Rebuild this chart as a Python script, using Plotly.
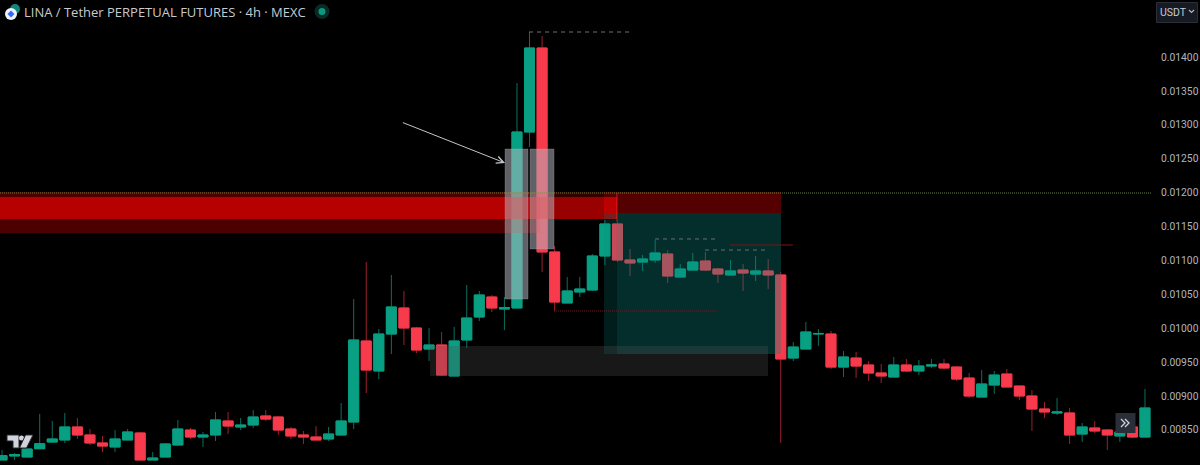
import plotly.graph_objects as go

OPENS = [0.008056,0.008115,0.0081,0.008222,0.008321,0.008351,0.008543,0.008425,0.008307,0.008248,0.008351,0.008454,0.008056,0.0081,0.008277,0.008498,0.008395,0.008425,0.008631,0.008543,0.008572,0.008705,0.00869,0.008513,0.008425,0.008395,0.008366,0.008425,
 0.008616,0.009811,0.009369,0.009914,0.010298,0.010003,0.009693,0.009752,0.009295,0.009826,0.010165,0.01046,0.010283,0.010298,0.012894,0.014133,0.011124,0.010372,0.010534,0.010563,0.011065,0.011537,0.011006,0.010976,0.011006,0.011094,0.010755,0.010858,0.010991,0.010873,0.010785,0.010858,0.010799,0.010844,
 0.010785,0.00956,0.009693,0.009914,0.009914,0.009427,0.00956,0.009457,0.009339,0.00928,0.009457,0.009369,0.009442,0.009472,0.009427,0.009265,0.008985,0.009162,0.009324,0.009147,0.009,0.008808,0.008749,0.008749,0.008439,0.008528,0.008498,0.00841,0.008543,0.008395]
HIGHS = [0.008203,0.008159,0.008218,0.008734,0.008631,0.008749,0.008675,0.008513,0.00841,0.008498,0.008513,0.008469,0.008174,0.008307,0.008646,0.008528,0.008469,0.008764,0.008764,0.008675,0.008793,0.008793,0.008705,0.008543,0.008484,0.008557,0.008543,0.008897,
 0.01043,0.010976,0.009988,0.010785,0.010549,0.010018,0.010003,0.009944,0.010018,0.010637,0.010549,0.01049,0.01046,0.013616,0.014369,0.01431,0.011212,0.010755,0.010755,0.011094,0.011596,0.011566,0.011168,0.011079,0.011301,0.011153,0.010947,0.011109,0.011124,0.010888,0.011006,0.010947,0.011065,0.01102,
 0.010829,0.009796,0.010091,0.009988,0.009959,0.009664,0.009649,0.009516,0.009472,0.009575,0.009546,0.009531,0.009546,0.009546,0.009442,0.009339,0.009383,0.009369,0.009398,0.009147,0.009088,0.008911,0.00897,0.008823,0.008602,0.008631,0.008513,0.008557,0.008572,0.009103]
LOWS = [0.008056,0.008056,0.0081,0.008218,0.008307,0.008307,0.008366,0.008277,0.008174,0.008174,0.008351,0.008056,0.008056,0.0081,0.008277,0.008366,0.008248,0.008336,0.008439,0.008498,0.008528,0.008631,0.008425,0.008366,0.008292,0.008351,0.008336,0.00841,
 0.008513,0.009044,0.00925,0.009619,0.009752,0.009634,0.009516,0.009295,0.009295,0.009708,0.010106,0.010239,0.009973,0.010298,0.012673,0.010829,0.010254,0.010372,0.01046,0.010549,0.010932,0.010976,0.01077,0.010844,0.010962,0.010667,0.010755,0.010858,0.010844,0.010667,0.010785,0.010549,0.010696,0.010578,
 0.008307,0.009516,0.009693,0.009737,0.009398,0.00928,0.009265,0.009221,0.009192,0.00928,0.009354,0.009309,0.009413,0.009398,0.009221,0.00897,0.008985,0.009029,0.009133,0.008941,0.008484,0.008675,0.008719,0.008292,0.008321,0.008454,0.008203,0.008321,0.00838,0.008395]
CLOSES = [0.00812,0.008135,0.008218,0.008296,0.008366,0.008543,0.008425,0.008307,0.008262,0.008366,0.008469,0.008056,0.008085,0.008292,0.008513,0.008395,0.008425,0.008646,0.008557,0.008572,0.00869,0.00866,0.008498,0.00841,0.008395,0.008351,0.008439,0.008631,
 0.009826,0.009383,0.009914,0.010313,0.010003,0.009678,0.009752,0.009309,0.009811,0.01015,0.01049,0.010298,0.010305,0.012894,0.014133,0.011124,0.010386,0.010549,0.010578,0.011065,0.011537,0.011006,0.010962,0.01102,0.011109,0.01077,0.010873,0.010976,0.010858,0.010799,0.010844,0.010814,0.010844,0.010785,
 0.009546,0.009722,0.009944,0.009922,0.009427,0.009575,0.009442,0.009339,0.009295,0.009457,0.009369,0.009442,0.009457,0.009413,0.00925,0.009,0.009177,0.009309,0.009133,0.009,0.008808,0.008764,0.008764,0.008425,0.008543,0.008484,0.008425,0.008469,0.008395,0.008823]
BAR_INDEX = list(range(len(OPENS)))

PRICE_TICKS = [0.0085,0.009,0.0095,0.01,0.0105,0.011,0.0115,0.012,0.0125,0.013,0.0135,0.014]
PRICE_RANGE = [0.007982, 0.014841]
INDEX_RANGE = [-0.16, 91.56]

TITLE = "LINA / Tether PERPETUAL FUTURES · 4h · MEXC"
CURRENCY = "USDT"

# drawings on the chart: (x0, x1, price_low, price_high, fill)
ZONES = [
    (-0.16, 42.83, 0.011404, 0.012009, "rgba(255,0,0,0.30)"),
    (42.83, 47.93, 0.011935, 0.012009, "rgba(255,0,0,0.20)"),
    (-0.16, 48.96, 0.01161, 0.011935, "rgba(255,0,0,0.60)"),
    (47.93, 62.02, 0.011699, 0.012009, "rgba(255,0,0,0.33)"),
    (47.93, 48.96, 0.009619, 0.011699, "rgba(10,140,130,0.21)"),
    (48.96, 62.02, 0.009619, 0.011699, "rgba(10,140,130,0.33)"),
    (34.08, 60.99, 0.009295, 0.009737, "rgba(80,80,84,0.30)"),
]
MARKER_BOXES = [
    (40.05, 41.88, 0.01043, 0.012643),
    (42.04, 43.95, 0.011168, 0.012643),
]
DASHED = [(41.96, 50.0, 0.014369), (51.99, 57.0, 0.011316), (55.97, 60.99, 0.011153)]
RED_SOLID = (57.96, 62.98, 0.011227)
RED_DOTTED = (43.95, 56.9, 0.010254)
LEVEL = 0.011994
ARROW = (31.8, 0.013041, 40.05, 0.012437)

W_G, W_R = "#0b6f5e", "#9c2230"
B_G, B_R = "#089f82", "#f73a4c"

def keep(col):
    return dict(line=dict(color=col, width=1), fillcolor=col)

fig = go.Figure()
fig.add_trace(go.Candlestick(x=BAR_INDEX, open=OPENS, high=HIGHS, low=LOWS, close=CLOSES,
    increasing=keep(W_G), decreasing=keep(W_R), whiskerwidth=0, hoverinfo="skip", showlegend=False))
body_hi = [max(a, b) for a, b in zip(OPENS, CLOSES)]
body_lo = [min(a, b) for a, b in zip(OPENS, CLOSES)]
fig.add_trace(go.Candlestick(x=BAR_INDEX, open=OPENS, high=body_hi, low=body_lo, close=CLOSES,
    increasing=keep(B_G), decreasing=keep(B_R), whiskerwidth=0, hoverinfo="skip", showlegend=False))

shapes = []
for x0, x1, y0, y1, c in ZONES:
    shapes.append(dict(type="rect", xref="x", yref="y", x0=x0, x1=x1, y0=y0, y1=y1, fillcolor=c, line_width=0))
for x0, x1, y0, y1 in MARKER_BOXES:
    shapes.append(dict(type="rect", xref="x", yref="y", x0=x0, x1=x1, y0=y0, y1=y1,
                       fillcolor="rgba(183,186,196,0.52)", line=dict(color="rgba(183,186,196,0.25)", width=1)))
for x0, x1, y in DASHED:
    shapes.append(dict(type="line", xref="x", yref="y", x0=x0, x1=x1, y0=y, y1=y,
                       line=dict(color="#6a6e72", width=1, dash="4px,4px")))
shapes.append(dict(type="line", xref="x", yref="y", x0=RED_SOLID[0], x1=RED_SOLID[1], y0=RED_SOLID[2], y1=RED_SOLID[2],
                   line=dict(color="#7a1212", width=1)))
shapes.append(dict(type="line", xref="x", yref="y", x0=RED_DOTTED[0], x1=RED_DOTTED[1], y0=RED_DOTTED[2], y1=RED_DOTTED[2],
                   line=dict(color="#6e1c22", width=1, dash="1px,1px")))
shapes.append(dict(type="line", xref="x", yref="y", x0=INDEX_RANGE[0], x1=INDEX_RANGE[1], y0=LEVEL, y1=LEVEL,
                   line=dict(color="rgba(120,150,70,0.85)", width=1, dash="1px,1px")))
shapes.append(dict(type="line", xref="x", yref="y", x0=48.96, x1=48.96, y0=0.011566, y1=0.011994,
                   line=dict(color="rgba(255,40,40,0.7)", width=1)))

PW, PH = 1152.0, 465.0
px = lambda v: v / PW
py = lambda v: 1 - v / PH

def circle(cx, cy, r, fill, line=None):
    return dict(type="circle", xref="paper", yref="paper", x0=px(cx - r), x1=px(cx + r), y0=py(cy + r), y1=py(cy - r),
                fillcolor=fill, line=dict(width=0) if line is None else line)

def path(points, fill, line=None):
    d = "M " + " L ".join(f"{px(a)},{py(b)}" for a, b in points) + " Z"
    return dict(type="path", xref="paper", yref="paper", path=d, fillcolor=fill,
                line=dict(width=0) if line is None else line)

# header icons
shapes += [circle(15, 9, 5, "#12867a"), circle(11, 14, 6, "#f0f3fa"),
           path([(11, 10.5), (14.5, 14), (11, 17.5), (7.5, 14)], "#2f6bff"),
           circle(322, 11.5, 7.5, "#0b2a26"), circle(322, 11.5, 3.5, "#089981")]
# TradingView mark
tv = "#d1d4dc"
edge = dict(color="#26282e", width=1)
shapes += [path([(7, 435), (19, 435), (19, 448), (13, 448), (13, 441), (7, 441)], tv, edge),
           circle(21.5, 438, 2.5, tv),
           path([(25.5, 435), (33, 435), (26.5, 448), (19.5, 448)], tv, edge)]
# currency button, scroll button
shapes += [dict(type="rect", xref="paper", yref="paper", x0=px(1156.5), x1=px(1197.5), y0=py(22.5), y1=py(2.5),
                fillcolor="#161a22", line=dict(color="#2a2e39", width=1)),
           dict(type="rect", xref="paper", yref="paper", x0=px(1115.5), x1=px(1135.5), y0=py(433), y1=py(413),
                fillcolor="#2a2e39", line=dict(width=0))]
shapes += [dict(type="path", xref="paper", yref="paper",
                path=f"M {px(1189)},{py(10)} L {px(1191.5)},{py(12.5)} L {px(1194)},{py(10)}",
                line=dict(color="#b2b5be", width=1.2)),
           dict(type="path", xref="paper", yref="paper",
                path=f"M {px(1121)},{py(419)} L {px(1125)},{py(423)} L {px(1121)},{py(427)}",
                line=dict(color="#d1d4dc", width=1.3)),
           dict(type="path", xref="paper", yref="paper",
                path=f"M {px(1125)},{py(419)} L {px(1129)},{py(423)} L {px(1125)},{py(427)}",
                line=dict(color="#d1d4dc", width=1.3))]

ann = [
    dict(xref="paper", yref="paper", x=px(21.5), y=py(12), text=TITLE, showarrow=False, xanchor="left", yanchor="middle",
         font=dict(family="Open Sans", size=13, color="#c8cad0")),
    dict(xref="paper", yref="paper", x=px(1158), y=py(12.5), text=CURRENCY, showarrow=False, xanchor="left", yanchor="middle",
         font=dict(family="Roboto", size=10.5, color="#c8cad0")),
    dict(x=ARROW[2], y=ARROW[3], ax=ARROW[0], ay=ARROW[1], xref="x", yref="y", axref="x", ayref="y", text="",
         showarrow=True, arrowhead=5, arrowsize=1.4, arrowwidth=1, arrowcolor="#c4c6cc"),
]

fig.update_layout(
    width=1200, height=465, autosize=False,
    margin=dict(l=0, r=48, t=0, b=0, autoexpand=False),
    paper_bgcolor="#000000", plot_bgcolor="#000000",
    showlegend=False, boxmode="overlay", boxgap=0.2, boxgroupgap=0,
    shapes=shapes, annotations=ann,
    xaxis=dict(range=INDEX_RANGE, visible=False, rangeslider=dict(visible=False), fixedrange=True),
    yaxis=dict(range=PRICE_RANGE, side="right", tickvals=PRICE_TICKS, tickformat=".5f", showgrid=False, zeroline=False,
               showline=False, ticks="", ticklabelstandoff=8, fixedrange=True, automargin=False,
               tickfont=dict(family="Roboto", size=10.3, color="#b2b5be")),
)
fig.write_html("out.html", config={"displayModeBar": False},
               post_script="document.body.style.margin='0';document.body.style.background='#000';")
